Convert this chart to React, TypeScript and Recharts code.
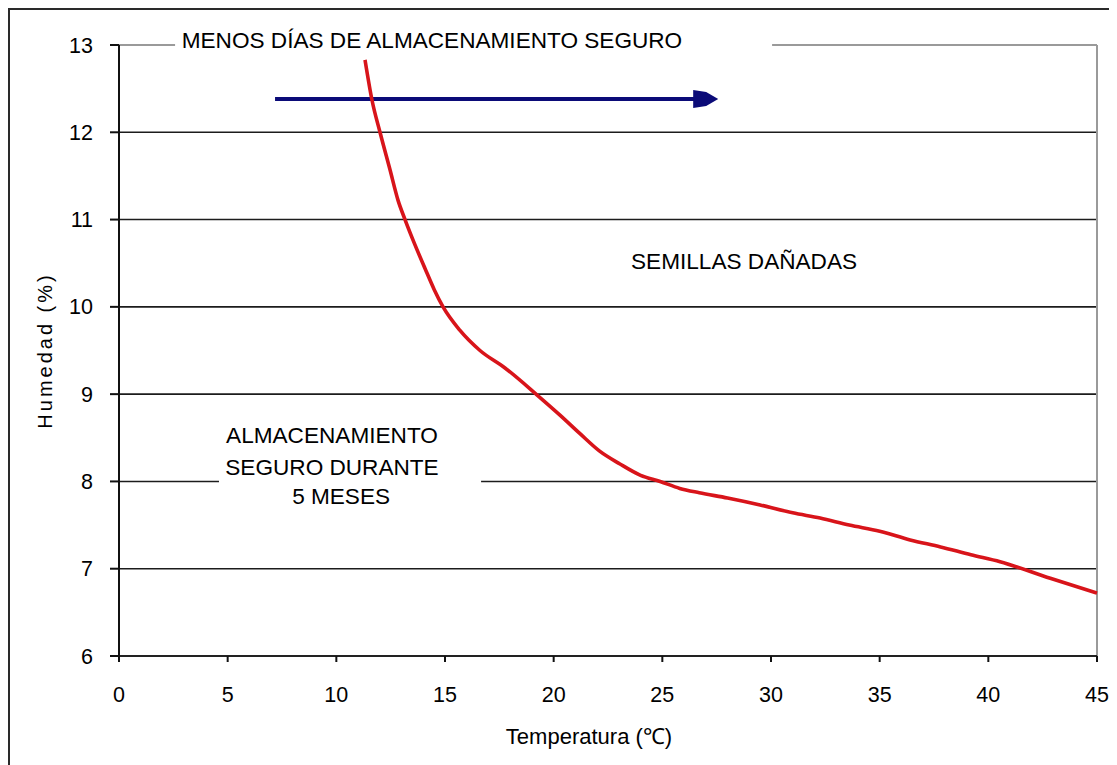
import React from 'react';
import {
  LineChart, Line, XAxis, YAxis, ReferenceLine, ReferenceDot, Label,
} from 'recharts';

// curve: temperature (°C) vs moisture (%)
const temperatura = [
  11.32, 11.64, 12.01, 12.47, 12.84, 13.16, 13.62, 14.08, 14.5, 14.91, 15.69, 16.61,
  17.76, 19.24, 20.29, 21.2, 22.1, 23.05, 24.0, 24.9, 25.8, 26.7, 28.0, 29.5,
  31.0, 32.26, 33.6, 35.0, 36.4, 37.8, 39.2, 40.54, 42.85, 45,
];
const humedad = [
  12.83, 12.37, 12.0, 11.57, 11.22, 11.0, 10.71, 10.44, 10.2, 10.0, 9.73, 9.5,
  9.3, 8.99, 8.76, 8.55, 8.35, 8.2, 8.07, 8.0, 7.92, 7.87, 7.81, 7.73,
  7.64, 7.58, 7.5, 7.43, 7.33, 7.25, 7.16, 7.08, 6.89, 6.72,
];

const xTicks = [0, 5, 10, 15, 20, 25, 30, 35, 40, 45];
const yTicks = [6, 7, 8, 9, 10, 11, 12, 13];
const fullGrid = [7, 9, 10, 11, 12];

// gridlines broken where the text boxes sit
const grid8Left = [0, 4.6];
const grid8Right = [16.66, 45];
const top13Left = [0, 2.58];
const top13Right = [30.05, 45];

// arrow "menos días"
const arrowFrom = 7.18;
const arrowTo = 27.57;
const arrowY = 12.381;

const notes = [
  { x: 14.4, y: 13.057, text: 'MENOS DÍAS DE ALMACENAMIENTO SEGURO' },
  { x: 28.76, y: 10.525, text: 'SEMILLAS DAÑADAS' },
  { x: 9.8, y: 8.532, text: 'ALMACENAMIENTO' },
  { x: 9.8, y: 8.165, text: 'SEGURO DURANTE' },
  { x: 10.22, y: 7.833, text: '5 MESES' },
];

const data = temperatura.map((t, i) => ({ t, h: humedad[i] }));

const FONT = '"Liberation Sans", Arial, sans-serif';
const GRID = '#1c1c1c';
const NAVY = '#0b0b78';

const Arrow = (p: any) => {
  const { x1, y1, x2, y2 } = p;
  return (
    <g>
      <line x1={x1} y1={y1} x2={x2 - 14} y2={y2} stroke={NAVY} strokeWidth={4} />
      <polygon
        points={`${x2 - 25},${y2 - 9} ${x2 - 12},${y2 - 7} ${x2},${y2} ${x2 - 12},${y2 + 7} ${x2 - 25},${y2 + 9}`}
        fill={NAVY}
      />
    </g>
  );
};

export default function App() {
  return (
    <div
      style={{
        width: 1109, height: 757, boxSizing: 'border-box', overflow: 'hidden',
        borderTop: '2px solid #2a2a2a', borderLeft: '2px solid #2a2a2a', background: '#fff',
      }}
    >
      <LineChart width={1107} height={755} data={data}
        margin={{ top: 35, right: 20, bottom: 0, left: 0 }}>
        <XAxis
          dataKey="t" type="number" domain={[0, 45]} ticks={xTicks}
          tick={{ fontSize: 21.5, fill: '#000', fontFamily: FONT }}
          tickSize={6} tickMargin={25} height={109}
          axisLine={{ stroke: '#222', strokeWidth: 2 }}
          tickLine={{ stroke: '#111', strokeWidth: 2 }}
        >
          <Label value="Temperatura (℃)" position="insideBottom" offset={21} dx={-19}
            fill="#000" fontSize={22} fontFamily={FONT} />
        </XAxis>
        <YAxis
          type="number" domain={[6, 13]} ticks={yTicks} width={109}
          tick={{ fontSize: 21.5, fill: '#000', fontFamily: FONT }}
          tickSize={9} tickMargin={17}
          axisLine={{ stroke: '#111', strokeWidth: 2 }}
          tickLine={{ stroke: '#111', strokeWidth: 2 }}
        >
          <Label value="Humedad (%)" angle={-90} position="insideLeft" offset={35}
            fill="#000" fontSize={20} fontFamily={FONT}
            style={{ textAnchor: 'middle', letterSpacing: '3px' }} />
        </YAxis>

        {fullGrid.map(v => (
          <ReferenceLine key={v} y={v} stroke={GRID} strokeWidth={1.6} />
        ))}
        <ReferenceLine segment={[{ x: grid8Left[0], y: 8 }, { x: grid8Left[1], y: 8 }]} stroke={GRID} strokeWidth={1.6} />
        <ReferenceLine segment={[{ x: grid8Right[0], y: 8 }, { x: grid8Right[1], y: 8 }]} stroke={GRID} strokeWidth={1.6} />
        <ReferenceLine segment={[{ x: top13Left[0], y: 13 }, { x: top13Left[1], y: 13 }]} stroke="#9a9a9a" strokeWidth={2} />
        <ReferenceLine segment={[{ x: top13Right[0], y: 13 }, { x: top13Right[1], y: 13 }]} stroke="#9a9a9a" strokeWidth={2} />
        <ReferenceLine x={45} stroke="#9a9a9a" strokeWidth={2} />

        <ReferenceLine
          segment={[{ x: arrowFrom, y: arrowY }, { x: arrowTo, y: arrowY }]}
          shape={Arrow}
        />

        <Line
          type="monotone" dataKey="h" stroke="#d8141a" strokeWidth={3.6}
          dot={false} activeDot={false} isAnimationActive={false}
        />

        {notes.map(n => (
          <ReferenceDot
            key={n.text} x={n.x} y={n.y} r={0} fill="none" stroke="none" ifOverflow="visible"
            label={{ value: n.text, position: 'center', fill: '#000', fontSize: 22.6, fontFamily: FONT }}
          />
        ))}
      </LineChart>
    </div>
  );
}
